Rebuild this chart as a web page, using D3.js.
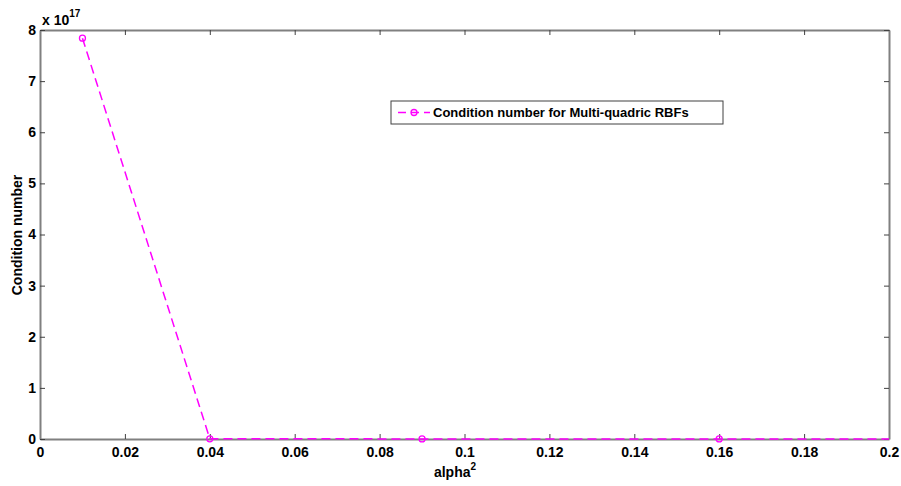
<!DOCTYPE html>
<html><head><meta charset="utf-8">
<script src="https://cdn.jsdelivr.net/npm/d3@7"></script>
<style>body{margin:0;background:#fff;} text{font-family:"Liberation Sans",Arial,sans-serif;font-weight:bold;}</style>
</head><body>
<svg id="c" width="901" height="486"></svg>
<script>
const alphaSq = [0.01, 0.04, 0.09, 0.16, 0.25];
const condNum = [7.84, 0.004, 0.002, 0.001, 0.0005]; // in units of 1e17
const xTicks = [0, 0.02, 0.04, 0.06, 0.08, 0.1, 0.12, 0.14, 0.16, 0.18, 0.2];
const yTicks = [0, 1, 2, 3, 4, 5, 6, 7, 8];
const seriesName = "Condition number for Multi-quadric RBFs";

const svg = d3.select("#c");
const L = 40, R = 889, T = 30, B = 439;
const x = d3.scaleLinear().domain([0, 0.2]).range([L, R]);
const y = d3.scaleLinear().domain([0, 8]).range([B, T]);
const magenta = "#ff00ff";

svg.append("defs").append("clipPath").attr("id", "clip")
  .append("rect").attr("x", L).attr("y", T - 6).attr("width", R - L).attr("height", B - T + 12);

const fmt = d => d === 0 ? "0" : String(+d.toFixed(2));

const axB = svg.append("g").attr("transform", `translate(0,${B})`)
  .call(d3.axisBottom(x).tickValues(xTicks).tickFormat(fmt).tickSizeInner(-5).tickSizeOuter(0).tickPadding(8));
const axT = svg.append("g").attr("transform", `translate(0,${T})`)
  .call(d3.axisTop(x).tickValues(xTicks).tickFormat("").tickSizeInner(-5).tickSizeOuter(0));
const axL = svg.append("g").attr("transform", `translate(${L},0)`)
  .call(d3.axisLeft(y).tickValues(yTicks).tickFormat(d3.format("d")).tickSizeInner(-5).tickSizeOuter(0).tickPadding(4));
const axR = svg.append("g").attr("transform", `translate(${R},0)`)
  .call(d3.axisRight(y).tickValues(yTicks).tickFormat("").tickSizeInner(-5).tickSizeOuter(0));
[axB, axT, axL, axR].forEach(a => {
  a.select(".domain").attr("stroke", "#808080").attr("stroke-width", 2);
  a.selectAll(".tick line").attr("stroke", "#404040").attr("stroke-width", 1);
  a.selectAll(".tick text").attr("fill", "#000").style("font-size", "14px").style("font-weight", "bold")
   .style("font-family", "'Liberation Sans',Arial,sans-serif");
});

const line = d3.line().x((d, i) => x(alphaSq[i])).y(d => y(d));
const g = svg.append("g").attr("clip-path", "url(#clip)");
g.append("path").datum(condNum).attr("d", line).attr("fill", "none")
  .attr("stroke", magenta).attr("stroke-width", 1.5).attr("stroke-dasharray", "9,5");
g.selectAll("circle").data(condNum).enter().append("circle")
  .attr("cx", (d, i) => x(alphaSq[i])).attr("cy", d => y(d)).attr("r", 3)
  .attr("fill", "none").attr("stroke", magenta).attr("stroke-width", 1.3);

const ex = svg.append("text").attr("x", 42).attr("y", 25).style("font-size", "14px");
ex.append("tspan").text("x 10");
ex.append("tspan").attr("dy", -8).style("font-size", "10px").text("17");

const xl = svg.append("text").attr("x", 455).attr("y", 477).attr("text-anchor", "middle").style("font-size", "14px");
xl.append("tspan").text("alpha");
xl.append("tspan").attr("dy", -7).style("font-size", "10px").text("2");
svg.append("text").attr("transform", "translate(22,235) rotate(-90)").attr("text-anchor", "middle")
  .style("font-size", "14px").text("Condition number");

const lg = svg.append("g");
lg.append("rect").attr("x", 391).attr("y", 101).attr("width", 332).attr("height", 23)
  .attr("fill", "#fff").attr("stroke", "#404040").attr("stroke-width", 1);
lg.append("line").attr("x1", 398).attr("x2", 430).attr("y1", 112.5).attr("y2", 112.5)
  .attr("stroke", magenta).attr("stroke-width", 1.5).attr("stroke-dasharray", "8,5");
lg.append("circle").attr("cx", 414).attr("cy", 112.5).attr("r", 3).attr("fill", "none")
  .attr("stroke", magenta).attr("stroke-width", 1.3);
lg.append("text").attr("x", 433).attr("y", 117).style("font-size", "13px").text(seriesName);
</script>
</body></html>
